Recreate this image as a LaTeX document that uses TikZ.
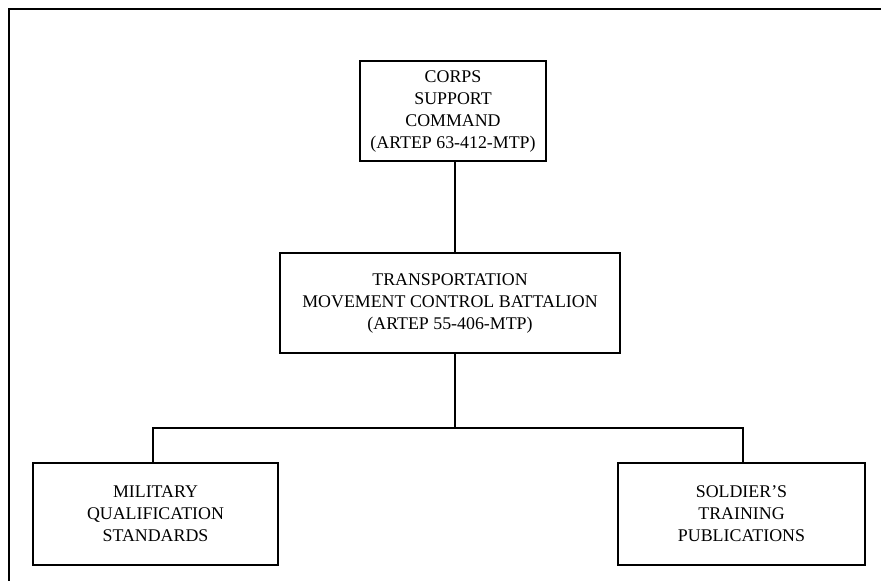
\documentclass[tikz,border=0pt]{standalone}
\usepackage{fontspec}
\setmainfont{Liberation Serif}
\begin{document}
\begin{tikzpicture}[x=0.75pt,y=-0.75pt,
  box/.style={draw, line width=1.2pt, inner sep=0pt, align=center, font=\fontsize{13.4}{16.5}\selectfont},
  conn/.style={line width=1.1pt},
  frameline/.style={line width=1.6pt}]
\useasboundingbox (0,0) rectangle (881,581);
\coordinate (f0) at (9,581);
\coordinate (f1) at (9,9);
\coordinate (f2) at (881,9);
\draw[frameline] (f0) -- (f1) -- (f2);
\node[box, minimum width=186*0.75pt, minimum height=100*0.75pt] (corps) at (453,111)
  {CORPS\\SUPPORT\\COMMAND\\(ARTEP 63-412-MTP)};
\node[box, minimum width=340*0.75pt, minimum height=100*0.75pt] (tmcb) at (450,303)
  {TRANSPORTATION\\MOVEMENT CONTROL BATTALION\\(ARTEP 55-406-MTP)};
\node[box, minimum width=245*0.75pt, minimum height=102*0.75pt] (mqs) at (155.5,514)
  {MILITARY\\QUALIFICATION\\STANDARDS};
\node[box, minimum width=247*0.75pt, minimum height=102*0.75pt] (stp) at (741.5,514)
  {SOLDIER'S\\TRAINING\\PUBLICATIONS};
\coordinate (bus) at (455,428);
\draw[conn] (corps.south -| bus) -- (tmcb.north -| bus);
\draw[conn] (tmcb.south -| bus) -- (bus);
\draw[conn] (mqs.north -| 153,0) |- (bus) -| (stp.north -| 743,0);
\end{tikzpicture}
\end{document}
